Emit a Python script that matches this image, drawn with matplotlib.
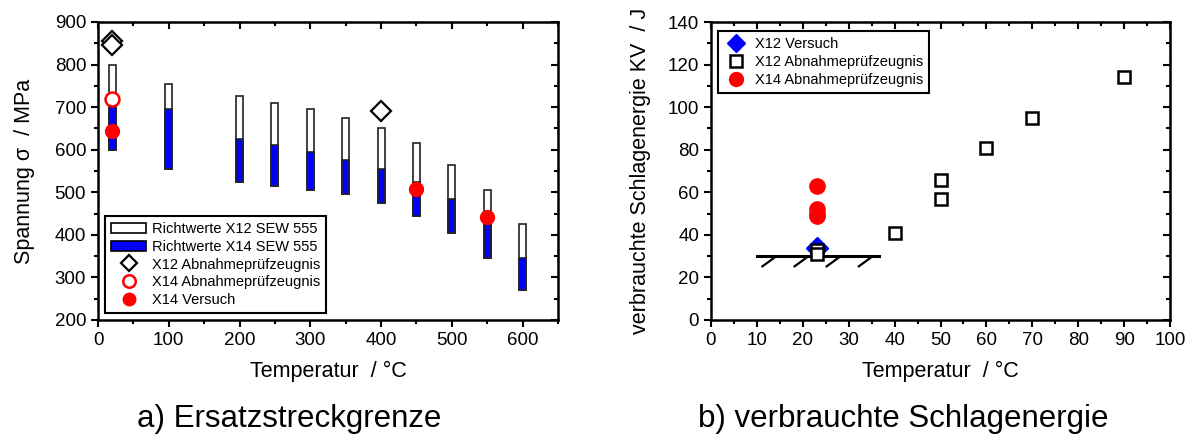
import numpy as np
import matplotlib
matplotlib.use("Agg")
import matplotlib.pyplot as plt
from matplotlib.patches import Patch
from matplotlib.lines import Line2D

plt.rcParams["font.family"] = ["Liberation Sans", "DejaVu Sans"]

# --- a) Ersatzstreckgrenze ---
bar_temp = [20, 100, 200, 250, 300, 350, 400, 450, 500, 550, 600]
x12_top = [800, 755, 725, 710, 695, 675, 650, 615, 565, 505, 425]
x14_top = [700, 695, 625, 610, 595, 575, 555, 525, 485, 425, 345]
x14_bottom = [600, 555, 525, 515, 505, 495, 475, 445, 405, 345, 270]

x12_abn_temp = [20, 20, 400]
x12_abn_val = [855, 845, 690]
x14_abn_temp = [20]
x14_abn_val = [720]
x14_vers_temp = [20, 450, 550]
x14_vers_val = [645, 508, 443]

# --- b) verbrauchte Schlagenergie ---
kv_x12_vers_temp = [23]
kv_x12_vers_val = [34]
kv_x12_abn_temp = [23, 23, 40, 50, 50, 60, 70, 90]
kv_x12_abn_val = [33, 31, 41, 66, 57, 81, 95, 114]
kv_x14_abn_temp = [23, 23, 23, 23]
kv_x14_abn_val = [63, 52, 50, 49]
kv_limit = 30
kv_limit_range = [10, 36.5]
hatch_x = [11.2, 18.2, 25.2, 32.2]

BLUE = "#0000ff"
RED = "#ff0000"


def style_axes(ax, xmaj, xmin, ymaj, ymin):
    ax.set_xticks(xmaj)
    ax.set_xticks(xmin, minor=True)
    ax.set_yticks(ymaj)
    ax.set_yticks(ymin, minor=True)
    ax.tick_params(which="major", direction="out", length=5, width=1.5, labelsize=13.5)
    ax.tick_params(which="minor", direction="out", length=3, width=1.5)
    for s in ax.spines.values():
        s.set_linewidth(1.8)
    # inward ticks on top and right
    top = ax.secondary_xaxis("top")
    top.set_xticks(xmaj)
    top.set_xticks(xmin, minor=True)
    top.tick_params(which="both", direction="in", labeltop=False, width=1.5)
    top.tick_params(which="major", length=5)
    top.tick_params(which="minor", length=3)
    right = ax.secondary_yaxis("right")
    right.set_yticks(ymaj)
    right.set_yticks(ymin, minor=True)
    right.tick_params(which="both", direction="in", labelright=False, width=1.5)
    right.tick_params(which="major", length=5)
    right.tick_params(which="minor", length=3)


fig = plt.figure(figsize=(11.95, 4.36), dpi=100)

ax1 = fig.add_axes([98 / 1195, 116 / 436, 460 / 1195, 298 / 436])
bw = 10
b = np.array(x14_bottom)
ax1.bar(bar_temp, np.array(x12_top) - b, bottom=b, width=bw, color="white",
        edgecolor="#222222", linewidth=1.2, zorder=2)
ax1.bar(bar_temp, np.array(x14_top) - b, bottom=b, width=bw, color=BLUE,
        edgecolor="#222222", linewidth=1.2, zorder=3)
ax1.plot(x12_abn_temp, x12_abn_val, "D", ms=10, mfc="white", mec="black", mew=1.6, zorder=4)
ax1.plot(x14_abn_temp, x14_abn_val, "o", ms=10, mfc="white", mec=RED, mew=1.8, zorder=4)
ax1.plot(x14_vers_temp, x14_vers_val, "o", ms=10, color=RED, zorder=5)
ax1.set_xlim(0, 650)
ax1.set_ylim(200, 900)
style_axes(ax1, np.arange(0, 601, 100), np.arange(0, 651, 50),
           np.arange(200, 901, 100), np.arange(200, 901, 50))
ax1.set_xlabel("Temperatur  / °C", fontsize=15.5, labelpad=9)
ax1.set_ylabel("Spannung σ  / MPa", fontsize=15.5, labelpad=14)

h1 = [
    Patch(facecolor="white", edgecolor="black", linewidth=1.2),
    Patch(facecolor=BLUE, edgecolor="black", linewidth=1.2),
    Line2D([], [], marker="D", ls="none", ms=8, mfc="white", mec="black", mew=1.6),
    Line2D([], [], marker="o", ls="none", ms=9, mfc="white", mec=RED, mew=1.8),
    Line2D([], [], marker="o", ls="none", ms=9, color=RED),
]
l1 = ["Richtwerte X12 SEW 555", "Richtwerte X14 SEW 555", "X12 Abnahmeprüfzeugnis",
      "X14 Abnahmeprüfzeugnis", "X14 Versuch"]
leg1 = ax1.legend(h1, l1, loc="lower left", bbox_to_anchor=(0.0, 0.0), fontsize=10.5,
                  frameon=True, fancybox=False, edgecolor="black", framealpha=1,
                  handlelength=2.4, handletextpad=0.4, labelspacing=0.25, borderpad=0.4)
leg1.get_frame().set_linewidth(1.5)

ax2 = fig.add_axes([711 / 1195, 116 / 436, 459 / 1195, 298 / 436])
ax2.plot(kv_limit_range, [kv_limit, kv_limit], color="black", lw=2.2, zorder=2)
for hx in hatch_x:
    ax2.plot([hx, hx + 2.8], [kv_limit - 4.8, kv_limit - 0.4], color="black", lw=1.6, zorder=2)
ax2.plot(kv_x12_vers_temp, kv_x12_vers_val, "D", ms=11, color=BLUE, zorder=3)
ax2.plot(kv_x12_abn_temp, kv_x12_abn_val, "s", ms=9, mfc="white", mec="black", mew=1.8, zorder=4)
ax2.plot(kv_x14_abn_temp, kv_x14_abn_val, "o", ms=11, color=RED, zorder=5)
ax2.set_xlim(0, 100)
ax2.set_ylim(0, 140)
style_axes(ax2, np.arange(0, 101, 10), np.arange(0, 101, 5),
           np.arange(0, 141, 20), np.arange(0, 141, 10))
ax2.set_xlabel("Temperatur  / °C", fontsize=15.5, labelpad=9)
ax2.set_ylabel("verbrauchte Schlagenergie KV  / J", fontsize=15.5, labelpad=12)

h2 = [
    Line2D([], [], marker="D", ls="none", ms=9, color=BLUE),
    Line2D([], [], marker="s", ls="none", ms=8, mfc="white", mec="black", mew=1.8),
    Line2D([], [], marker="o", ls="none", ms=10, color=RED),
]
l2 = ["X12 Versuch", "X12 Abnahmeprüfzeugnis", "X14 Abnahmeprüfzeugnis"]
leg2 = ax2.legend(h2, l2, loc="upper left", bbox_to_anchor=(0.0, 0.995), fontsize=10.5,
                  frameon=True, fancybox=False, edgecolor="black", framealpha=1,
                  handlelength=1.6, handletextpad=0.5, labelspacing=0.3, borderpad=0.4)
leg2.get_frame().set_linewidth(1.5)

cap_font = ["Liberation Sans", "DejaVu Sans"]
fig.text(289 / 1195, 1 - 419 / 436, "a) Ersatzstreckgrenze", ha="center", va="center",
         fontsize=22.5, family=cap_font)
fig.text(903 / 1195, 1 - 419 / 436, "b) verbrauchte Schlagenergie", ha="center", va="center",
         fontsize=22.5, family=cap_font)

fig.savefig("out.png", dpi=100)
